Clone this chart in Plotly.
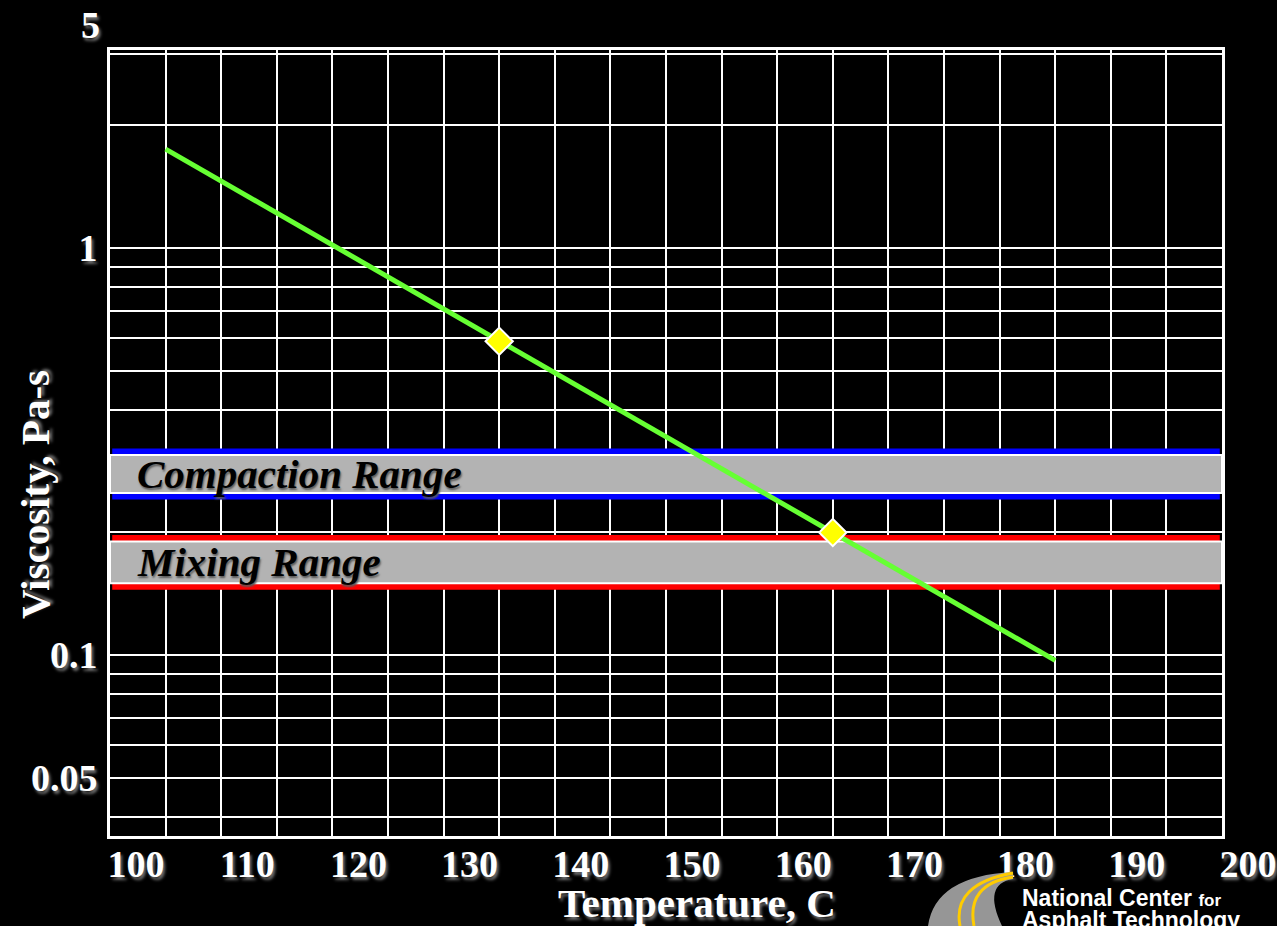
import numpy as np
import plotly.graph_objects as go

# ---------------- data ----------------
line_temp = [105, 185]                 # deg C, ends of the green viscosity line
line_visc = [1.75, 0.097]              # Pa-s
point_temp = [135, 165]                # measured points (diamonds)
point_visc = [0.59, 0.20]
compaction_range = [0.25, 0.31]        # Pa-s
mixing_range = [0.15, 0.19]            # Pa-s
x_tick_vals = [100, 110, 120, 130, 140, 150, 160, 170, 180, 190, 200]
x_grid_vals = [100, 105, 110, 115, 120, 125, 130, 135, 140, 145, 150,
               155, 160, 165, 170, 175, 180, 185, 190, 195, 200]
y_grid_vals = [0.04, 0.05, 0.06, 0.07, 0.08, 0.09,
               0.1, 0.2, 0.3, 0.4, 0.5, 0.6, 0.7, 0.8, 0.9,
               1, 2, 3]
y_label_vals = [0.05, 0.1, 1]
y_label_text = ["0.05", "0.1", "1"]
top_label = "5"

# ---------------- figure geometry ----------------
W, H = 1277, 926
L, R, T, B = 110, 55, 50, 90
PW, PH = W - L - R, H - T - B


def px(x):
    return (x - L) / PW


def py(y):
    return (H - B - y) / PH


SERIF = "Liberation Serif"
SHADOW = "2px 3px 3px rgb(110,110,110)"
white_bold = dict(family=SERIF, size=38, color="white", weight="bold", shadow=SHADOW)
title_font = dict(family=SERIF, size=41, color="white", weight="bold", shadow=SHADOW)
band_font = dict(family=SERIF, size=41, color="black", weight="bold", style="italic",
                 shadow="1px 2px 2px rgb(90,90,90)")

fig = go.Figure()

x_lo, x_hi = x_grid_vals[0], x_grid_vals[-1]

# coloured limit lines (the inner half is covered by the gray band drawn next)
for rng, col in ((compaction_range, "#0000ff"), (mixing_range, "#ff0000")):
    for v in rng:
        fig.add_trace(go.Scatter(x=[x_lo + 0.2, x_hi - 0.2], y=[v, v], mode="lines",
                                 line=dict(color=col, width=13), hoverinfo="skip"))

# gray bands
band_fill = "rgb(179,179,179)"
for rng in (compaction_range, mixing_range):
    lo, hi = rng
    fig.add_trace(go.Scatter(
        x=[x_lo, x_hi, x_hi, x_lo, x_lo],
        y=[lo, lo, hi, hi, lo],
        mode="lines", fill="toself", fillcolor=band_fill,
        line=dict(color="white", width=2), hoverinfo="skip"))

# green viscosity line
fig.add_trace(go.Scatter(x=line_temp, y=line_visc, mode="lines",
                         line=dict(color="#66ff33", width=5)))
# measured points
fig.add_trace(go.Scatter(x=point_temp, y=point_visc, mode="markers",
                         marker=dict(symbol="diamond", size=21, color="#ffff00",
                                     line=dict(color="white", width=2))))

# NCAT logo road graphic (decorative)
shapes = []
road = ("M {a},{b} Q {c},{d} {e},{f} L {g},{h} Q {i},{j} {k},{l} Z").format(
    a=px(928), b=py(926), c=px(935), d=py(876), e=px(1013), f=py(872),
    g=px(1013), h=py(879), i=px(982), j=py(884), k=px(1002), l=py(926))
shapes.append(dict(type="path", xref="paper", yref="paper", path=road,
                   fillcolor="rgb(150,150,150)", line=dict(width=0)))
for x0, x1, y1 in ((960, 1013, 873), (974, 1013, 877)):
    p = "M {a},{b} Q {c},{d} {e},{f}".format(
        a=px(x0), b=py(926), c=px(x0 - 8), d=py(884), e=px(x1), f=py(y1))
    shapes.append(dict(type="path", xref="paper", yref="paper", path=p,
                       line=dict(color="#ffcc00", width=3)))

annotations = [
    dict(text="Compaction Range", xref="paper", x=px(135), xanchor="left",
         yref="y", y=float(np.mean(np.log10(compaction_range))), yanchor="middle",
         showarrow=False, font=band_font),
    dict(text="Mixing Range", xref="paper", x=px(135), xanchor="left",
         yref="y", y=float(np.mean(np.log10(mixing_range))), yanchor="middle",
         showarrow=False, font=band_font),
    dict(text="Viscosity, Pa-s", xref="paper", yref="paper", x=px(35), y=py(495),
         textangle=-90, showarrow=False, xanchor="center", yanchor="middle",
         font=title_font),
    dict(text="Temperature, C", xref="paper", yref="paper", x=px(697), y=py(903),
         showarrow=False, xanchor="center", yanchor="middle", font=title_font),
    dict(text=top_label, xref="paper", yref="paper", x=px(102), y=py(25),
         showarrow=False, xanchor="right", yanchor="middle", font=white_bold),
    dict(text="National Center <span style='font-size:17px'>for</span>",
         xref="paper", yref="paper", x=px(1020), y=py(898),
         showarrow=False, xanchor="left", yanchor="middle",
         font=dict(family="Liberation Sans", size=23, color="white", weight="bold")),
    dict(text="Asphalt Technology", xref="paper", yref="paper", x=px(1020), y=py(920),
         showarrow=False, xanchor="left", yanchor="middle",
         font=dict(family="Liberation Sans", size=23, color="white", weight="bold")),
]

ytext = [y_label_text[y_label_vals.index(v)] if v in y_label_vals else "" for v in y_grid_vals]

fig.update_layout(
    width=W, height=H, paper_bgcolor="black", plot_bgcolor="black",
    margin=dict(l=L, r=R, t=T, b=B, autoexpand=False), showlegend=False,
    shapes=shapes, annotations=annotations,
)
fig.update_xaxes(
    range=[x_lo, x_hi],
    tickvals=x_tick_vals, ticktext=[str(v) for v in x_tick_vals],
    showgrid=True, gridcolor="white", gridwidth=2,
    minor=dict(tickvals=x_grid_vals, showgrid=True, gridcolor="white", gridwidth=2),
    showline=True, linecolor="white", linewidth=3, mirror=True,
    ticks="", zeroline=False, tickfont=white_bold,
    ticklabelshift=26, ticklabelstandoff=-8, ticklabeloverflow="allow",
)
fig.update_yaxes(
    type="log", range=[-1.4447, 0.4865],
    tickvals=y_grid_vals, ticktext=ytext,
    showgrid=True, gridcolor="white", gridwidth=2,
    showline=True, linecolor="white", linewidth=3, mirror=True,
    ticks="", zeroline=False, tickfont=white_bold, ticklabelstandoff=2,
)

fig.write_html("out.html")
